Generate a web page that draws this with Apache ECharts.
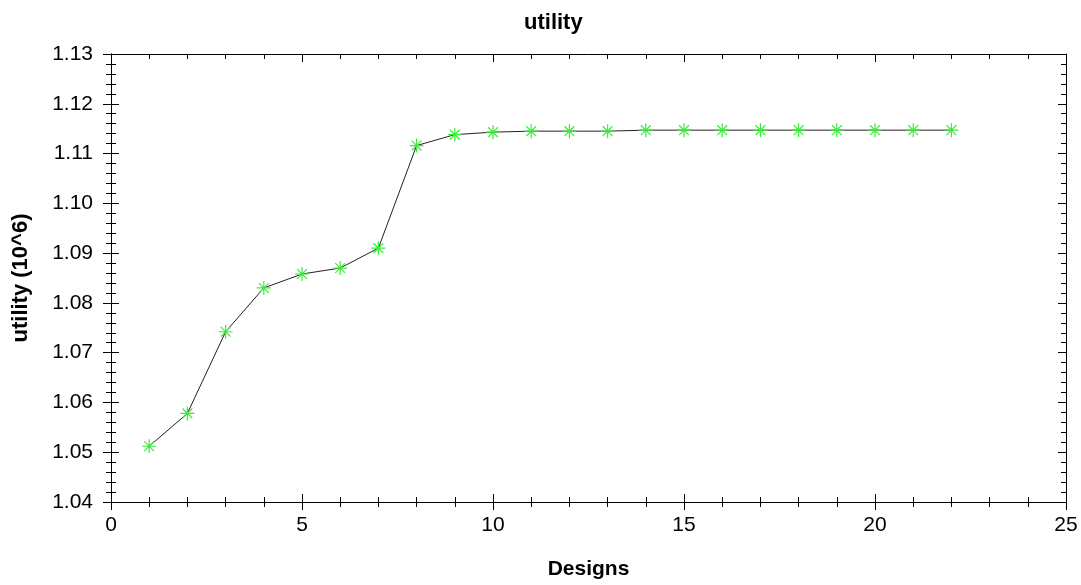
<!DOCTYPE html>
<html>
<head>
<meta charset="utf-8">
<script src="https://cdn.jsdelivr.net/npm/echarts@6/dist/echarts.min.js"></script>
<style>
  html, body { margin: 0; padding: 0; background: #fff; }
  #main { width: 1081px; height: 585px; }
</style>
</head>
<body>
<div id="main"></div>
<script>
// 数据
var designs = [1, 2, 3, 4, 5, 6, 7, 8, 9, 10, 11, 12, 13, 14, 15, 16, 17, 18, 19, 20, 21, 22];
var utility = [1.0512, 1.0578, 1.0742, 1.0830, 1.0858, 1.0870, 1.0910, 1.1116, 1.1138, 1.1143, 1.1145, 1.1145,
  1.1145, 1.1147, 1.1147, 1.1147, 1.1147, 1.1147, 1.1147, 1.1147, 1.1147, 1.1147];

(function () {
  var chartDom = document.getElementById('main');
  var myChart = echarts.init(chartDom);
  var font = 'Liberation Sans, Arial, sans-serif';
  var points = designs.map(function (d, i) { return [d, utility[i]]; });

  // 星号标记
  var star = 'path://M0,-10L0,10M-10,0L10,0M-7,-7L7,7M-7,7L7,-7';

  // 公共的x轴配置
  function xAx(pos, inside, showLabel, name) {
    return {
      type: 'value', min: 0, max: 25, interval: 5, position: pos,
      name: name || '', nameLocation: 'middle', nameGap: 57,
      nameTextStyle: { color: '#000', fontSize: 21, fontWeight: 'bold', fontFamily: font },
      axisLine: { show: true, onZero: false, lineStyle: { color: '#000', width: 1 } },
      axisTick: { show: true, inside: inside, length: 8, lineStyle: { color: '#000' } },
      minorTick: { show: true, splitNumber: 5, length: 5, lineStyle: { color: '#000' } },
      axisLabel: { show: showLabel, color: '#000', fontSize: 21, fontFamily: font, margin: 13 },
      splitLine: { show: false }
    };
  }
  function yAx(pos, inside, showLabel, name) {
    return {
      type: 'value', min: 1.04, max: 1.13, interval: 0.01, position: pos,
      name: name || '', nameLocation: 'middle', nameGap: 79,
      nameTextStyle: { color: '#000', fontSize: 22, fontWeight: 'bold', fontFamily: font },
      axisLine: { show: true, onZero: false, lineStyle: { color: '#000', width: 1 } },
      axisTick: { show: true, inside: inside, length: 8, lineStyle: { color: '#000' } },
      minorTick: { show: true, splitNumber: 5, length: 5, lineStyle: { color: '#000' } },
      axisLabel: {
        show: showLabel, color: '#000', fontSize: 21, fontFamily: font, margin: 18,
        formatter: function (v) { return v.toFixed(2); }
      },
      splitLine: { show: false }
    };
  }

  var option = {
    animation: false,
    backgroundColor: '#fff',
    title: {
      text: 'utility', left: 519, top: 7,
      textStyle: { color: '#000', fontSize: 22, fontWeight: 'bold', fontFamily: font }
    },
    grid: { left: 111, right: 15, top: 54, bottom: 81 },
    xAxis: [
      xAx('bottom', false, true, 'Designs'),
      xAx('bottom', true, false),
      xAx('top', true, false)
    ],
    yAxis: [
      yAx('left', false, true, 'utility (10^6)'),
      yAx('left', true, false),
      yAx('right', true, false)
    ],
    series: [
      {
        type: 'line',
        data: points,
        xAxisIndex: 0,
        yAxisIndex: 0,
        symbol: star,
        symbolSize: 14,
        showAllSymbol: true,
        lineStyle: { color: '#222', width: 1 },
        itemStyle: { color: '#3cec3c', borderColor: '#3cec3c', borderWidth: 1.2 }
      }
    ]
  };

  option && myChart.setOption(option);
})();
</script>
</body>
</html>
